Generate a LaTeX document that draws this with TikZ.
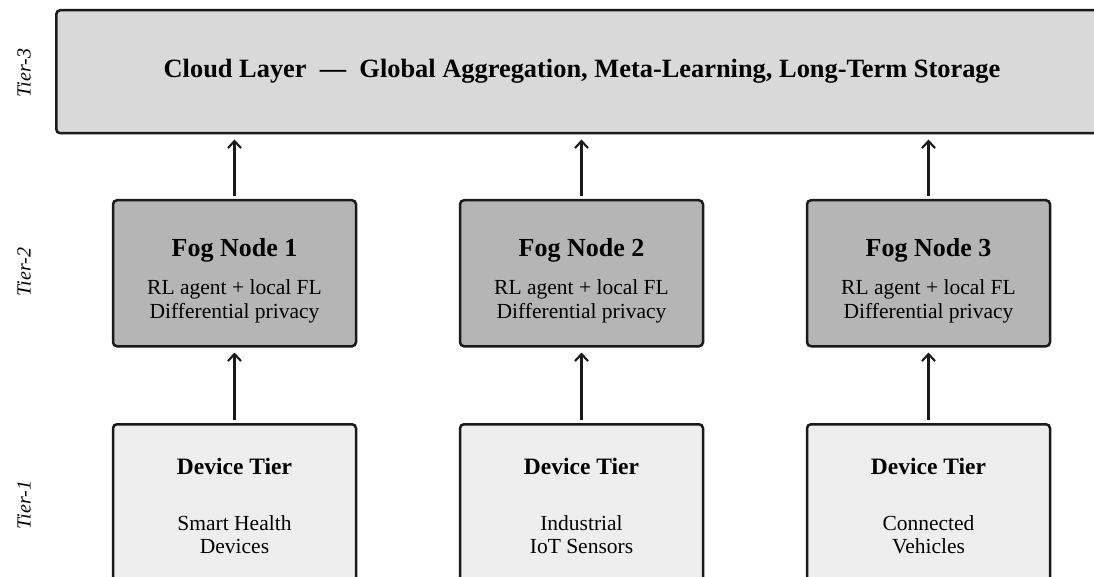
\documentclass[tikz,border=0pt]{standalone}
\usepackage{fontspec}
\setmainfont{Liberation Serif}
\usetikzlibrary{arrows.meta}

\definecolor{edge}{HTML}{1A1A1A}
\definecolor{cloudfill}{HTML}{D9D9D9}
\definecolor{fogfill}{HTML}{B5B5B5}
\definecolor{devfill}{HTML}{EEEEEE}

\begin{document}
\begin{tikzpicture}[x=1pt,y=-1pt,
  box/.style={draw=edge, line width=2.5pt, rounded corners=4pt, inner sep=0pt},
  cloudbox/.style={box, fill=cloudfill, minimum width=1080pt, minimum height=123pt, anchor=north west},
  fogbox/.style={box, fill=fogfill, minimum width=243pt, minimum height=146pt, anchor=north},
  devbox/.style={box, fill=devfill, minimum width=243pt, minimum height=180pt, anchor=north},
  flow/.style={draw=edge, line width=2.1pt,
    -{Straight Barb[length=7pt,width=13pt,line width=2.1pt]},
    shorten >=5pt, shorten <=3pt},
  cloudtitle/.style={font=\fontsize{26.4}{30}\selectfont\bfseries, anchor=base, inner sep=0pt},
  fogtitle/.style={font=\fontsize{26}{30}\selectfont\bfseries, anchor=base, inner sep=0pt},
  devtitle/.style={font=\fontsize{23.5}{28}\selectfont\bfseries, anchor=base, inner sep=0pt},
  body/.style={font=\fontsize{21.5}{24}\selectfont, anchor=base, inner sep=0pt},
  tier/.style={font=\fontsize{20}{24}\selectfont\itshape, rotate=90, inner sep=0pt}
]
\useasboundingbox (0,0) rectangle (1094,577);
\begin{scope}
\clip (0,0) rectangle (1094,577);

% Tier-3: cloud
\node[cloudbox] (cloud) at (55,9) {};
\node[cloudtitle] (cloudtxt) at (582,78)
  {Cloud Layer\ \ —\ \ Global Aggregation, Meta-Learning, Long-Term Storage};

% Tier-2: fog nodes
\foreach \i/\x in {1/234.5, 2/581.5, 3/928.5} {
  \node[fogbox] (fog\i) at (\x,199) {};
  \node[fogtitle] (fogt\i) at (\x,256) {Fog Node \i};
  \node[body] (fogl\i) at (\x,294) {RL agent + local FL};
  \node[body] (fogm\i) at (\x,318) {Differential privacy};
}

% Tier-1: devices
\foreach \i/\x/\la/\lb in {1/234.5/Smart Health/Devices,
                           2/581.5/Industrial/IoT Sensors,
                           3/928.5/Connected/Vehicles} {
  \node[devbox] (dev\i) at (\x,423) {};
  \node[devtitle] (devt\i) at (\x,474) {Device Tier};
  \node[body] (devl\i) at (\x,530) {\la};
  \node[body] (devm\i) at (\x,553) {\lb};
}

% Upward flows
\foreach \i in {1,2,3} {
  \draw[flow] (fog\i.north) -- (fog\i.north |- cloud.south);
  \draw[flow] (dev\i.north) -- (fog\i.south);
}

% Tier labels
\node[tier] (tier3) at (24,73) {Tier-3};
\node[tier] (tier2) at (24,272) {Tier-2};
\node[tier] (tier1) at (24,505) {Tier-1};
\end{scope}
\end{tikzpicture}
\end{document}
